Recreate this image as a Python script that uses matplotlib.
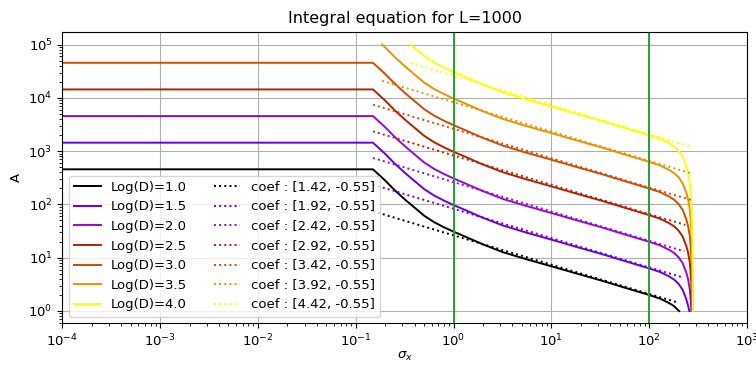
import numpy as np
import matplotlib
matplotlib.use("Agg")
from matplotlib import pyplot as plt

log_d = [1.0, 1.5, 2.0, 2.5, 3.0, 3.5, 4.0]
coefs = [[1.42, -0.55], [1.92, -0.55], [2.42, -0.55], [2.92, -0.55],
         [3.42, -0.55], [3.92, -0.55], [4.42, -0.55]]

# solid curves (values above 1e5 and below 1 are not drawn)
x_main = [1e-4, 0.15, 0.2, 0.25, 0.32, 0.4, 0.5, 0.63, 0.8, 1.0, 1.4, 2.0, 3.2, 5.6,
          10, 18, 32, 56, 100, 130, 160, 180, 200]

x_10 = x_main + [203]
a_10 = [457, 457, 282, 186, 123, 87.1, 61.7, 46.8, 37.2, 30.9, 23.7, 17.8, 12.7, 9.33,
        6.92, 5.07, 3.76, 2.75, 2.00, 1.70, 1.41, 1.23, 1.02, 1.0]

x_15 = x_main + [220, 240, 250, 258]
a_15 = [1445, 1445, 892, 588, 389, 275, 195, 148, 118, 97.7, 74.9, 56.2, 40.3, 29.5,
        21.9, 16.0, 11.9, 8.70, 6.31, 5.38, 4.46, 3.89, 3.23, 2.51, 1.66, 1.26, 1.0]

x_20 = x_main + [220, 240, 250, 260, 265, 270, 270.3]
a_20 = [4570, 4570, 2820, 1860, 1230, 871, 617, 468, 372, 309, 237, 178, 127, 93.3,
        69.2, 50.7, 37.6, 27.5, 19.95, 17.0, 14.1, 12.3, 10.2, 7.94, 5.25, 3.98, 2.63,
        1.82, 1.05, 1.0]

x_25 = x_main + [220, 240, 250, 260, 265, 270, 273, 275, 275.3]
a_25 = [14450, 14450, 8920, 5880, 3890, 2750, 1950, 1480, 1180, 977, 749, 562, 403, 295,
        219, 160, 119, 87.0, 63.1, 53.8, 44.6, 38.9, 32.3, 25.1, 16.6, 12.6, 8.32,
        5.75, 3.32, 2.0, 1.12, 1.0]

x_30 = x_main + [220, 240, 250, 260, 265, 270, 273, 275, 277, 278.4]
a_30 = [45700, 45700, 28200, 18600, 12300, 8710, 6170, 4680, 3720, 3090, 2370, 1778,
        1274, 933, 692, 507, 376, 275, 199.5, 170, 141, 123, 102, 79.4, 52.5, 39.8,
        26.3, 18.2, 10.5, 6.31, 3.55, 1.78, 1.0]

x_35 = [0.186, 0.2, 0.25, 0.32, 0.4, 0.5, 0.63, 0.8, 1.0, 1.4, 2.0, 3.2, 5.6, 10, 18, 32,
        56, 100, 130, 160, 180, 200, 220, 240, 250, 260, 265, 270, 273, 275, 277,
        278.5, 279.3]
a_35 = [100000, 89200, 58800, 38900, 27500, 19500, 14800, 11800, 9770, 7490, 5620, 4030,
        2950, 2190, 1600, 1190, 870, 631, 538, 446, 389, 323, 251, 166, 126, 83.2, 57.5,
        33.2, 20.0, 11.2, 5.63, 2.82, 1.0]

x_40 = [0.365, 0.4, 0.5, 0.63, 0.8, 1.0, 1.4, 2.0, 3.2, 5.6, 10, 18, 32, 56, 100, 130,
        160, 180, 200, 220, 240, 250, 260, 265, 270, 273, 275, 277, 278.5, 279.3, 279.8]
a_40 = [100000, 87100, 61700, 46800, 37200, 30900, 23700, 17780, 12740, 9330, 6920, 5070,
        3760, 2750, 1995, 1700, 1410, 1230, 1020, 794, 525, 398, 263, 182, 105, 63.1,
        35.5, 17.8, 8.91, 3.16, 1.0]

curves_x = [x_10, x_15, x_20, x_25, x_30, x_35, x_40]
curves_a = [a_10, a_15, a_20, a_25, a_30, a_35, a_40]

# fitted power-law lines (dotted): end points
dot_x0 = [0.15, 0.15, 0.15, 0.15, 0.15, 0.186, 0.365]
dot_x1 = [200, 224, 229, 234, 275, 275, 263]
dot_a0 = [74.7, 236, 747, 2361, 7464, 20970, 45780]
dot_a1 = [1.43, 4.24, 13.2, 41.4, 119.7, 379, 1227]

colors = plt.cm.gnuplot(np.linspace(0, 1, len(log_d)))

plt.rcParams["font.size"] = 9.5
plt.rcParams["lines.linewidth"] = 1.4

fig = plt.figure(figsize=(7.56, 3.65), dpi=100)
ax = fig.add_axes([0.0824, 0.1142, 0.9056, 0.7989])

for i in range(len(log_d)):
    ax.plot(curves_x[i], curves_a[i], color=colors[i], label="Log(D)=%.1f" % log_d[i])
for i in range(len(log_d)):
    ax.plot([dot_x0[i], dot_x1[i]], [dot_a0[i], dot_a1[i]], ":", color=colors[i],
            label="coef : [%.2f, %.2f]" % (coefs[i][0], coefs[i][1]))

ax.axvline(1, color="tab:green")
ax.axvline(100, color="tab:green")

ax.set_xscale("log")
ax.set_yscale("log")
ax.set_xlim(1e-4, 1e3)
ax.set_ylim(0.587, 1.75e5)
ax.grid(True)
ax.set_title("Integral equation for L=1000", fontsize=11.5)
ax.set_xlabel(r"$\sigma_x$", labelpad=0)
ax.set_ylabel("A")
ax.legend(loc="lower left", ncol=2)

fig.savefig("out.png", dpi=100)
